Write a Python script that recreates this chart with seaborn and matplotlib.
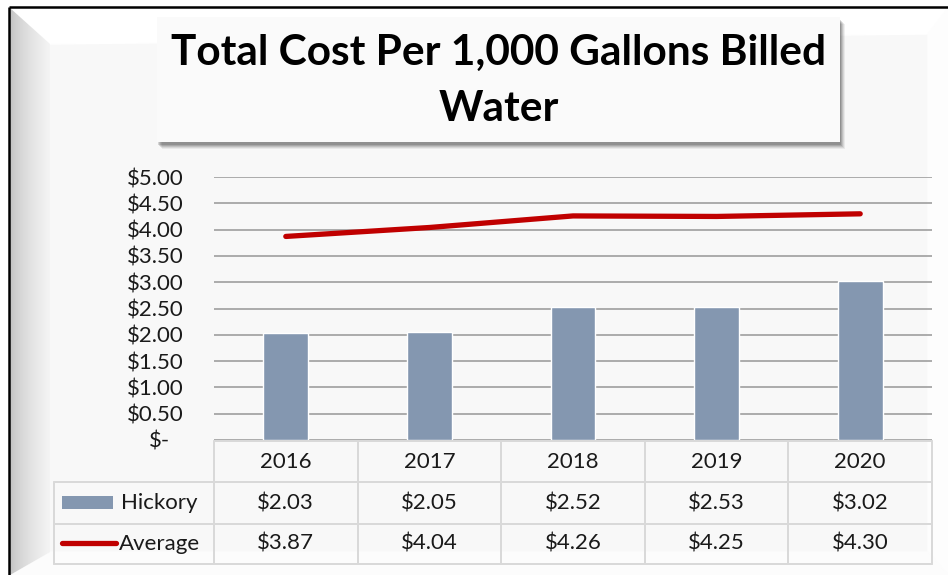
import numpy as np
import pandas as pd
import matplotlib
matplotlib.use("Agg")
import matplotlib.pyplot as plt
from matplotlib.patches import Rectangle, Polygon
import seaborn as sns

# ---- data ----
years = ["2016", "2017", "2018", "2019", "2020"]
hickory = [2.03, 2.05, 2.52, 2.53, 3.02]
average = [3.87, 4.04, 4.26, 4.25, 4.30]
series_names = ["Hickory", "Average"]
y_ticks = [0.0, 0.5, 1.0, 1.5, 2.0, 2.5, 3.0, 3.5, 4.0, 4.5, 5.0]
y_tick_labels = ["", "$0.50", "$1.00", "$1.50", "$2.00", "$2.50",
                 "$3.00", "$3.50", "$4.00", "$4.50", "$5.00"]
zero_label = "$-"
title_lines = ["Total Cost Per 1,000 Gallons Billed", "Water"]

BAR = "#8497B0"
LINE = "#C00000"
GRID = "#A6A6A6"
TABLE = "#D9D9D9"
TXT = "#1A1A1A"

sns.set_theme(style="white")
plt.rcParams["font.family"] = ["Lato", "DejaVu Sans"]

W, H = 948, 575
fig = plt.figure(figsize=(W / 100, H / 100), dpi=100)
fig.patch.set_facecolor("white")


def rect(x0, y0, x1, y1):
    return [x0 / W, 1 - y1 / H, (x1 - x0) / W, (y1 - y0) / H]


# background canvas in pixel units
bg = fig.add_axes([0, 0, 1, 1])
bg.set_xlim(0, W)
bg.set_ylim(H, 0)
bg.axis("off")

# chart area with bevelled frame
bg.add_patch(Rectangle((10, 8), W - 10, H - 8, color="#F8F8F8", zorder=0))
top_band = Polygon([(10, 8), (W, 8), (928, 34), (50, 44)], closed=True,
                   color="#FFFFFF", zorder=1)
bg.add_patch(top_band)
right_band = Polygon([(W, 8), (W, H), (928, 552), (928, 34)], closed=True,
                     color="#FDFDFD", zorder=1)
bg.add_patch(right_band)
bottom_band = Polygon([(10, H), (W, H), (928, 552), (50, 552)], closed=True,
                      color="#FCFCFC", zorder=1)
bg.add_patch(bottom_band)
left_band = Polygon([(10, 8), (50, 44), (50, 552), (10, H)], closed=True,
                    facecolor="none", edgecolor="none", zorder=2)
bg.add_patch(left_band)
grad = np.linspace(0, 1, 256)[None, :] ** 0.6
img = bg.imshow(grad, extent=(10, 50, H, 8), cmap=matplotlib.colors.LinearSegmentedColormap.from_list(
    "bevel", ["#BEBEBE", "#F4F4F4"]), aspect="auto", zorder=2, interpolation="bilinear")
img.set_clip_path(left_band)
bg.set_xlim(0, W)
bg.set_ylim(H, 0)
bg.plot([9, W], [7, 7], color="black", lw=1.8, zorder=5, solid_capstyle="butt")
bg.plot([9, 9], [7, H], color="black", lw=1.8, zorder=5, solid_capstyle="butt")

# title box with soft shadow
bx0, by0, bx1, by1 = 157, 17, 840, 142
for off, a in [(7, 0.06), (6, 0.08), (5, 0.10), (4, 0.12), (3, 0.14)]:
    bg.add_patch(Rectangle((bx0 + off - 2, by0 + off), bx1 - bx0, by1 - by0,
                           color="black", alpha=a, lw=0, zorder=6))
bg.add_patch(Rectangle((bx0, by0), bx1 - bx0, by1 - by0, color="#FAFAFA",
                       lw=0, zorder=7))
bg.text((bx0 + bx1) / 2, 53, title_lines[0], ha="center", va="center",
        fontsize=30.5, fontweight="bold", color="black", zorder=8)
bg.text((bx0 + bx1) / 2, 109, title_lines[1], ha="center", va="center",
        fontsize=30.5, fontweight="bold", color="black", zorder=8)

# plot area
ax = fig.add_axes(rect(214, 177, 932, 440))
ax.set_facecolor("none")
df = pd.DataFrame({"year": years, "Hickory": hickory, "Average": average})
sns.barplot(data=df, x="year", y="Hickory", color=BAR, saturation=1,
            width=0.313, ax=ax, zorder=3)
sns.lineplot(data=df, x="year", y="Average", color=LINE, lw=3.8, ax=ax,
             zorder=4, solid_capstyle="round")
ax.set_xlim(-0.5, len(years) - 0.5)
ax.set_ylim(0, 5)
ax.set_yticks(y_ticks)
ax.set_yticklabels(y_tick_labels)
ax.yaxis.grid(True, color=GRID, lw=1.3)
ax.xaxis.grid(False)
ax.set_axisbelow(True)
ax.set_xticks([])
ax.set_xlabel("")
ax.set_ylabel("")
ax.tick_params(axis="y", length=0, pad=22, labelsize=16, labelcolor=TXT)
for s in ax.spines.values():
    s.set_visible(False)
bg.text(170, 441, zero_label, ha="right", va="center", fontsize=16,
        color=TXT, zorder=8)

# data table below the plot
col_x0, col_w = 214, (932 - 214) / len(years)
leg_x0 = 54
row_y = [441, 482, 524, 564]
lw_t = 1.4
bg.plot([col_x0, 932], [row_y[0], row_y[0]], color=TABLE, lw=lw_t, zorder=3)
for yy in row_y[1:]:
    bg.plot([leg_x0, 932], [yy, yy], color=TABLE, lw=lw_t, zorder=3)
bg.plot([leg_x0, leg_x0], [row_y[1], row_y[3]], color=TABLE, lw=lw_t, zorder=3)
for i in range(len(years) + 1):
    xx = col_x0 + i * col_w
    bg.plot([xx, xx], [row_y[0], row_y[3]], color=TABLE, lw=lw_t, zorder=3)

for i, yr in enumerate(years):
    cx = col_x0 + (i + 0.5) * col_w
    bg.text(cx, (row_y[0] + row_y[1]) / 2, yr, ha="center", va="center",
            fontsize=16, color=TXT, zorder=8)
    bg.text(cx, (row_y[1] + row_y[2]) / 2, f"${hickory[i]:.2f}", ha="center",
            va="center", fontsize=16, color=TXT, zorder=8)
    bg.text(cx, (row_y[2] + row_y[3]) / 2, f"${average[i]:.2f}", ha="center",
            va="center", fontsize=16, color=TXT, zorder=8)

# legend keys inside the table
bg.add_patch(Rectangle((62, 496), 51, 13, color=BAR, lw=0, zorder=8))
bg.text(121, (row_y[1] + row_y[2]) / 2, series_names[0], ha="left",
        va="center", fontsize=16, color=TXT, zorder=8)
bg.plot([62, 116], [543, 543], color=LINE, lw=3.8, solid_capstyle="round",
        zorder=8)
bg.text(119, (row_y[2] + row_y[3]) / 2, series_names[1], ha="left",
        va="center", fontsize=16, color=TXT, zorder=8)

fig.savefig("out.png", dpi=100)
